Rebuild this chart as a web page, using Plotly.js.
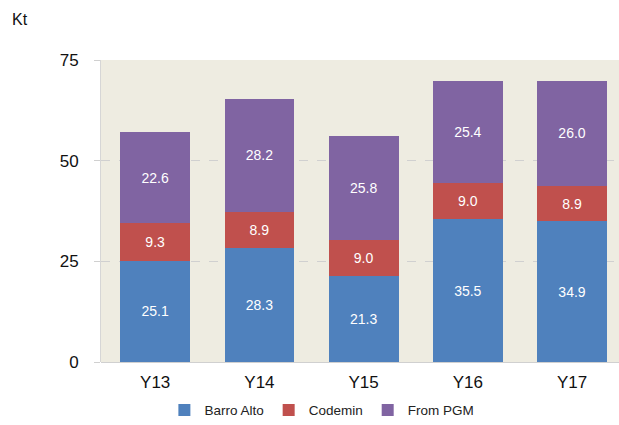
<!DOCTYPE html>
<html>
<head>
<meta charset="utf-8">
<script src="https://cdn.plot.ly/plotly-3.0.1.min.js"></script>
<style>html,body{margin:0;padding:0;background:#fff;}#chart{width:619px;height:425px;}</style>
</head>
<body>
<div id="chart"></div>
<script>
const categories = ["Y13", "Y14", "Y15", "Y16", "Y17"];
const barroAlto = [25.1, 28.3, 21.3, 35.5, 34.9];
const codemin = [9.3, 8.9, 9.0, 9.0, 8.9];
const fromPGM = [22.6, 28.2, 25.8, 25.4, 26.0];
const seriesNames = ["Barro Alto", "Codemin", "From PGM"];
const yTicks = [0, 25, 50, 75];

const colors = ["#4f81bd", "#c0504d", "#8064a2"];
const seriesData = [barroAlto, codemin, fromPGM];
const font = "Liberation Sans, Arial, sans-serif";

const traces = seriesData.map((vals, i) => ({
  type: "bar",
  name: seriesNames[i],
  x: categories,
  y: vals,
  marker: {color: colors[i]},
  text: vals.map(v => v.toFixed(1)),
  textposition: "inside",
  insidetextanchor: "middle",
  textangle: 0,
  constraintext: "none",
  textfont: {color: "#ffffff", size: 14, family: font},
  hoverinfo: "none"
}));

const layout = {
  width: 619,
  height: 425,
  barmode: "stack",
  bargap: 0.33,
  paper_bgcolor: "#ffffff",
  plot_bgcolor: "#eeece1",
  margin: {l: 101, r: 0, t: 60, b: 63},
  font: {family: font, color: "#000000"},
  showlegend: true,
  legend: {
    orientation: "h",
    xref: "container", yref: "container",
    x: 0.52, xanchor: "center",
    y: 0.035, yanchor: "middle",
    font: {size: 13.5, color: "#222"},
    itemwidth: 30,
    tracegroupgap: 0,
    traceorder: "normal"
  },
  xaxis: {
    type: "category",
    range: [-0.52, 4.45],
    showgrid: false,
    zeroline: false,
    showline: false,
    ticks: "",
    ticklabelstandoff: 8,
    tickfont: {size: 17, color: "#111"}
  },
  yaxis: {
    range: [0, 75],
    tickvals: yTicks,
    ticktext: yTicks.map(String),
    showgrid: true,
    gridcolor: "#d0d0d0",
    griddash: "dash",
    gridwidth: 1,
    zeroline: true,
    zerolinecolor: "#d0d0d0",
    zerolinewidth: 1,
    showline: true,
    linecolor: "#d6d6d6",
    linewidth: 1,
    ticks: "outside",
    ticklen: 6,
    tickcolor: "#d0d0d0",
    ticklabelstandoff: 12,
    tickfont: {size: 17, color: "#111"}
  },
  annotations: [{
    text: "Kt",
    xref: "paper", yref: "paper",
    x: (10 - 101) / 518, y: (362 - 19) / 302,
    xanchor: "left", yanchor: "middle",
    showarrow: false,
    font: {size: 16, color: "#111"}
  }]
};

Plotly.newPlot("chart", traces, layout, {displayModeBar: false, staticPlot: true});
</script>
</body>
</html>
